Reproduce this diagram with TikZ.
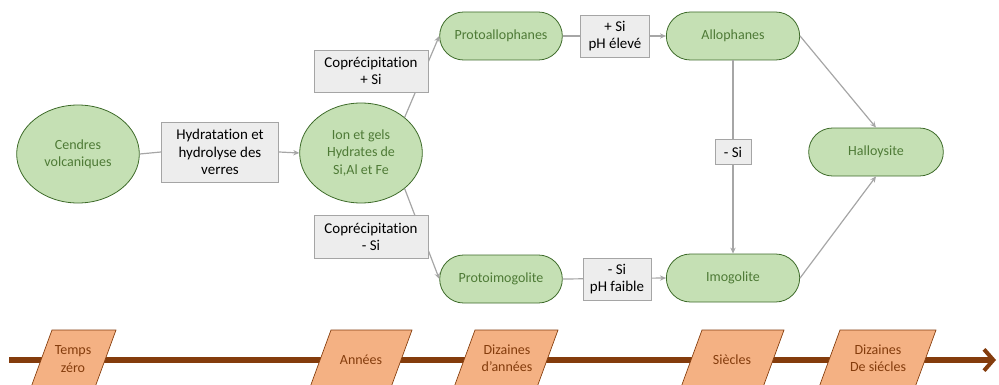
\documentclass[tikz,border=0pt]{standalone}
\usepackage{fontspec}
\setmainfont{Carlito}[Ligatures=NoCommon]
\usetikzlibrary{shapes.geometric,arrows.meta}
\definecolor{gfill}{HTML}{C5E0B4}
\definecolor{gdraw}{HTML}{3E6B2A}
\definecolor{gtext}{HTML}{4E7A36}
\definecolor{bfill}{HTML}{EDEDED}
\definecolor{bdraw}{HTML}{A5A5A5}
\definecolor{conn}{HTML}{A6A6A6}
\definecolor{brown}{HTML}{843C0C}
\definecolor{ofill}{HTML}{F4B183}
\tikzset{
  oval/.style={ellipse,draw=gdraw,fill=gfill,text=gtext,line width=0.6pt,inner sep=0pt,minimum width=92pt,minimum height=73.5pt,align=center,font=\fontsize{10.5}{13}\selectfont},
  pill/.style={rectangle,rounded corners=18pt,draw=gdraw,fill=gfill,text=gtext,line width=0.6pt,minimum width=#1,minimum height=36pt,align=center,font=\fontsize{10.5}{12.5}\selectfont},
  lbl/.style={rectangle,draw=bdraw,fill=bfill,text=black,line width=0.6pt,inner sep=0pt,align=center,font=\fontsize{11.2}{13}\selectfont},
  conn/.style={draw=conn,line width=0.9pt},
  arr/.style={conn,-{Stealth[length=4.5pt,width=4pt]}},
  para/.style={draw=brown,fill=ofill,line width=0.5pt},
  ptext/.style={text=brown,align=center,font=\fontsize{10.5}{13}\selectfont},
}
\begin{document}
\begin{tikzpicture}[x=0.75pt,y=-0.75pt]
\useasboundingbox (0,0) rectangle (999,385);
\clip (0,0) rectangle (999,385);
% nodes
\node[oval] (cv) at (78,154) {Cendres\\volcaniques};
\node[lbl,minimum width=88pt,minimum height=45pt] (hyd) at (220,152) {Hydratation et\\hydrolyse des\\verres};
\node[oval,minimum height=75pt] (ion) at (361,153) {Ion et gels\\Hydrates de\\Si,Al et Fe};
\node[pill=92pt] (pa) at (501,36) {Protoallophanes};
\node[pill=100pt] (al) at (733,36) {Allophanes};
\node[pill=92pt] (pi) at (501,279) {Protoimogolite};
\node[pill=100pt] (im) at (733,278) {Imogolite};
\node[pill=101pt] (ha) at (876,152) {Halloysite};
% connectors
\draw[conn] (cv.east) -- (hyd.west);
\draw[arr] (hyd.east) -- (ion.west);
\draw[arr] (ion.north east) -- (pa.west);
\draw[arr] (ion.south east) -- (pi.west);
\draw[arr] (al.south) -- (im.north);
\draw[arr] (al.east) -- (ha.north);
\draw[arr] (im.east) -- (ha.south);
\draw[arr] (pa.east) -- (al.west);
\draw[arr] (pi.east) -- (im.west);
% labels
\node[lbl,minimum width=85.5pt,minimum height=31.5pt] (c1) at (371,71) {Coprécipitation\\+ Si};
\node[lbl,minimum width=85.5pt,minimum height=32pt] (c2) at (371,237) {Coprécipitation\\- Si};
\node[lbl,minimum width=52pt,minimum height=31.5pt] (s1) at (615,36) {+ Si\\pH élevé};
\node[lbl,minimum width=51pt,minimum height=31.5pt] (s2) at (617,279) {- Si\\pH faible};
\node[lbl,minimum width=27pt,minimum height=19pt] (s3) at (733,152) {- Si};
% timeline
\coordinate (t0) at (9,360);
\coordinate (t1) at (996,360);
\draw[draw=brown,line width=3.8pt,-{Straight Barb[length=7pt,width=16pt,line width=3pt]}] (t0) -- (t1);
\foreach \xa/\xb in {52/116,331/412,475/558,702/784,840/936}{
  \draw[para] (\xa,330) -- (\xb,330) -- ++(-22,60) -- ++(\xa-\xb,0) -- cycle;
}
\node[ptext] (tz) at (73,359) {Temps\\zéro};
\node[ptext] (an) at (361,360) {Années};
\node[ptext] (da) at (507,358) {Dizaines\\d’années};
\node[ptext] (si) at (732,360) {Siècles};
\node[ptext] (ds) at (878,358) {Dizaines\\De siécles};
\end{tikzpicture}
\end{document}
